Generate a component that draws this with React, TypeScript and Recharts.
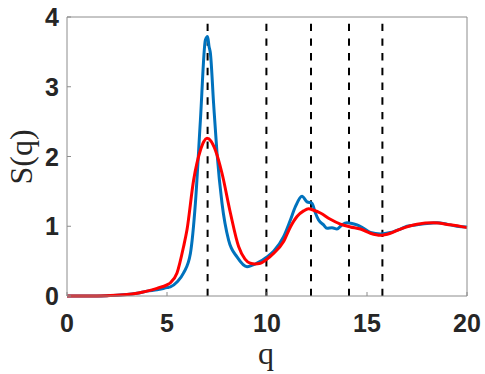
import { LineChart, Line, XAxis, YAxis, ReferenceLine, Label } from "recharts";

// S(q) curves
const blueQ = [0, 1, 2, 2.5, 3, 3.5, 4, 4.5, 5, 5.17, 5.5, 5.83, 6.17, 6.42, 6.67, 6.92, 7.03, 7.1, 7.17, 7.33, 7.5, 7.75, 8.08, 8.5, 9.0, 9.5, 10.0, 10.33, 10.83, 11.17, 11.42, 11.75, 12.0, 12.25, 12.42, 12.58, 12.83, 13.0, 13.25, 13.5, 13.75, 14.0, 14.25, 14.5, 14.83, 15.17, 15.67, 16.17, 16.67, 17.0, 17.5, 18.0, 18.5, 19.0, 19.5, 20];
const blueS = [0, 0, 0.005, 0.01, 0.02, 0.04, 0.07, 0.09, 0.12, 0.13, 0.2, 0.33, 0.61, 1.33, 2.52, 3.67, 3.72, 3.58, 3.48, 2.76, 2.05, 1.33, 0.8, 0.56, 0.42, 0.47, 0.56, 0.64, 0.85, 1.09, 1.28, 1.43, 1.35, 1.33, 1.19, 1.09, 1.02, 0.97, 0.98, 0.96, 1.02, 1.05, 1.04, 1.02, 0.97, 0.91, 0.89, 0.91, 0.96, 1.0, 1.02, 1.04, 1.05, 1.03, 1.0, 0.99];

const redQ = [0, 1, 2, 3, 3.5, 4, 4.5, 5, 5.17, 5.5, 5.83, 6.0, 6.33, 6.67, 6.85, 7.0, 7.2, 7.42, 7.75, 8.17, 8.58, 8.9, 9.17, 9.4, 9.67, 10.17, 10.33, 10.83, 11.17, 11.5, 11.83, 12.08, 12.33, 12.67, 13.17, 13.67, 14.17, 14.67, 15.17, 15.67, 16.17, 16.67, 17.5, 18.33, 19.17, 20];
const redS = [0, 0, 0.005, 0.02, 0.04, 0.07, 0.11, 0.16, 0.19, 0.33, 0.71, 0.95, 1.66, 2.09, 2.22, 2.26, 2.22, 2.09, 1.76, 1.19, 0.71, 0.53, 0.47, 0.46, 0.47, 0.57, 0.61, 0.78, 0.99, 1.14, 1.22, 1.25, 1.23, 1.19, 1.1, 1.03, 0.99, 0.96, 0.9, 0.87, 0.9, 0.96, 1.03, 1.05, 1.02, 0.98];

const peakQ = [7.03, 9.97, 12.2, 14.1, 15.77];
const xTicks = [0, 5, 10, 15, 20];
const yTicks = [0, 1, 2, 3, 4];

const blue = blueQ.map((q, i) => ({ q, s: blueS[i] }));
const red = redQ.map((q, i) => ({ q, s: redS[i] }));

const AXIS = "#8c8c8c";
const TXT = "#262626";
const tickStyle = { fontFamily: "Liberation Sans", fontWeight: 700, fontSize: "25px", fill: TXT };
const labelStyle = { fontFamily: "Liberation Serif", fontWeight: 400, fontSize: "32px", fill: TXT };

const BottomTick = (p: any) => (
  <g>
    <line x1={p.x} y1={p.y} x2={p.x} y2={p.y - 4} stroke={AXIS} />
    <text x={p.x} y={p.y + 36} textAnchor="middle" style={tickStyle}>
      {String(p.payload.value)}
    </text>
  </g>
);

const LeftTick = (p: any) => (
  <g>
    <line x1={p.x} y1={p.y} x2={p.x + 4} y2={p.y} stroke={AXIS} />
    <text x={p.x - 8} y={p.y + 9} textAnchor="end" style={tickStyle}>
      {String(p.payload.value)}
    </text>
  </g>
);

const TopTick = (p: any) => <line x1={p.x} y1={p.y} x2={p.x} y2={p.y + 4} stroke={AXIS} />;
const RightTick = (p: any) => <line x1={p.x} y1={p.y} x2={p.x - 4} y2={p.y} stroke={AXIS} />;

export default function App() {
  return (
    <div style={{ position: "absolute", left: 0, top: 0, background: "#fff" }}>
      <LineChart width={485} height={374} margin={{ top: 16, right: 17, left: 37, bottom: 48 }}>
        <XAxis
          dataKey="q"
          type="number"
          domain={[0, 20]}
          ticks={xTicks}
          height={30}
          stroke={AXIS}
          tickLine={false}
          tickSize={0}
          tickMargin={0}
          tick={<BottomTick />}
          allowDuplicatedCategory={false}
        >
          <Label
            content={() => (
              <text x={266} y={364} textAnchor="middle" style={labelStyle}>
                q
              </text>
            )}
          />
        </XAxis>
        <XAxis
          xAxisId="top"
          orientation="top"
          type="number"
          domain={[0, 20]}
          ticks={xTicks}
          height={1}
          stroke={AXIS}
          tickLine={false}
          tickSize={0}
          tickMargin={0}
          tick={<TopTick />}
        />
        <YAxis
          type="number"
          domain={[0, 4]}
          ticks={yTicks}
          width={30}
          stroke={AXIS}
          tickLine={false}
          tickSize={0}
          tickMargin={0}
          tick={<LeftTick />}
        >
          <Label
            content={() => (
              <text x={32} y={157} textAnchor="middle" transform="rotate(-90, 32, 157)" style={labelStyle}>
                S(q)
              </text>
            )}
          />
        </YAxis>
        <YAxis
          yAxisId="right"
          orientation="right"
          type="number"
          domain={[0, 4]}
          ticks={yTicks}
          width={1}
          stroke={AXIS}
          tickLine={false}
          tickSize={0}
          tickMargin={0}
          tick={<RightTick />}
        />
        {peakQ.map((x) => (
          <ReferenceLine
            key={x}
            segment={[
              { x, y: 0 },
              { x, y: 4 },
            ]}
            stroke="#000"
            strokeWidth={2}
            strokeDasharray="7.36 7.36"
          />
        ))}
        <Line data={blue} dataKey="s" type="monotone" stroke="#0072BD" strokeWidth={3} dot={false} isAnimationActive={false} />
        <Line data={red} dataKey="s" type="monotone" stroke="#FF0000" strokeWidth={3} dot={false} isAnimationActive={false} />
      </LineChart>
    </div>
  );
}
